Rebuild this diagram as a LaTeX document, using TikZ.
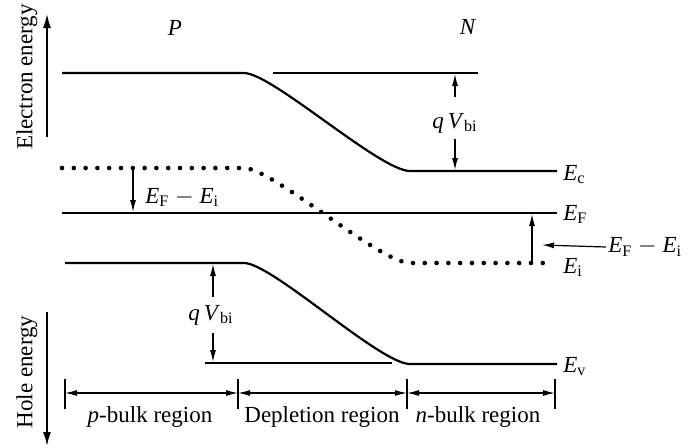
\documentclass[tikz,border=0pt]{standalone}
\usepackage{fontspec}
\setmainfont{Liberation Serif}
\usetikzlibrary{arrows.meta,positioning}

\newcommand{\lev}[1]{\textit{E}\textsubscript{#1}}
\newcommand{\qvbi}{\textit{q\,V}\textsubscript{bi}}

\tikzset{
  band/.style={line width=1.1pt},
  fermiline/.style={line width=0.8pt},
  refline/.style={line width=0.6pt},
  dotband/.style={line width=2.3pt, line cap=round, dash pattern=on 0pt off 5.9pt},
  tip/.style={-{Latex[length=6pt,width=3pt]}, line width=0.6pt},
  axis/.style={-{Latex[length=7pt,width=4pt]}, line width=0.8pt},
  dim/.style={{Latex[length=6pt,width=3pt]}-{Latex[length=6pt,width=3pt]}, line width=0.6pt},
  lbl/.style={font=\fontsize{11.5}{13}\selectfont, inner sep=1pt},
}

\begin{document}
\begin{tikzpicture}[x=0.5pt,y=-0.5pt]
\useasboundingbox (0,0) rectangle (696,447);

% Energy axes
\coordinate (eBot) at (47,137);
\coordinate (eTop) at (47,14);
\coordinate (hTop) at (47,312);
\coordinate (hBot) at (47,446);
\draw[axis] (eBot) -- (eTop);
\draw[axis] (hTop) -- (hBot);
\node[lbl, rotate=90] (elec) at (27,77) {Electron energy};
\node[lbl, rotate=90] (hole) at (27,372) {Hole energy};
\node[lbl] (pside) at (175,28) {\textit{P}};
\node[lbl] (nside) at (468,27) {\textit{N}};

% Draw bands
\draw[band] (62,73) -- (244,73) .. controls (272,73) and (380,171) .. (410,171) -- (557,171);
\draw[dotband] (62,168) -- (244,168) .. controls (272,168) and (380,263) .. (410,263) -- (547,263);
\draw[fermiline] (62,213) -- (557,213);
\draw[band] (65,263) -- (244,263) .. controls (272,263) and (380,364) .. (410,364) -- (557,364);
% Reference levels
\draw[refline] (273,73) -- (478,73);
\draw[refline] (205,363) -- (392,363);

% Band labels
\node[lbl, anchor=base west] (ec) at (561,180) {\lev{c}};
\node[lbl, anchor=base west] (ef) at (561,220) {\lev{F}};
\node[lbl, anchor=base west] (ei) at (561,273) {\lev{i}};
\node[lbl, anchor=base west] (ev) at (561,372) {\lev{v}};

% Built-in potential, n side
\coordinate (q1a) at (455,97);
\coordinate (q1b) at (455,74);
\coordinate (q1c) at (455,139);
\coordinate (q1d) at (455,170);
\node[lbl, anchor=base] (qvn) at (455,128) {\qvbi};
\draw[tip] (q1a) -- (q1b);
\draw[tip] (q1c) -- (q1d);

% Built-in potential, p side
\coordinate (q2a) at (213,297);
\coordinate (q2b) at (213,264);
\coordinate (q2c) at (213,333);
\coordinate (q2d) at (213,362);
\node[lbl, anchor=base] (qvp) at (211,320) {\qvbi};
\draw[tip] (q2a) -- (q2b);
\draw[tip] (q2c) -- (q2d);

% E_F - E_i on both sides
\coordinate (fa) at (133,168);
\coordinate (fb) at (133,212);
\draw[tip] (fa) -- (fb);
\node[lbl, anchor=base west] (efp) at (143,203) {\lev{F} $-$ \lev{i}};
\coordinate (fc) at (532,262);
\coordinate (fd) at (532,214);
\coordinate (fe) at (542,245);
\draw[tip] (fc) -- (fd);
\node[lbl, anchor=west] (efn) at (606,247) {\lev{F} $-$ \lev{i}};
\draw[tip] (efn.west) -- (fe);

% Regions
\foreach \x/\n in {65/t1,238/t2,407/t3,555/t4} {
  \coordinate (\n) at (\x,393);
  \draw[refline] (\x,379) -- (\x,409);
}
\draw[dim] (t1) -- (t2);
\draw[dim] (t2) -- (t3);
\draw[dim] (t3) -- (t4);
\node[lbl] (pbulk) at (150,417) {\textit{p}-bulk region};
\node[lbl] (depl) at (322,417) {Depletion region};
\node[lbl] (nbulk) at (478,417) {\textit{n}-bulk region};
\end{tikzpicture}
\end{document}
